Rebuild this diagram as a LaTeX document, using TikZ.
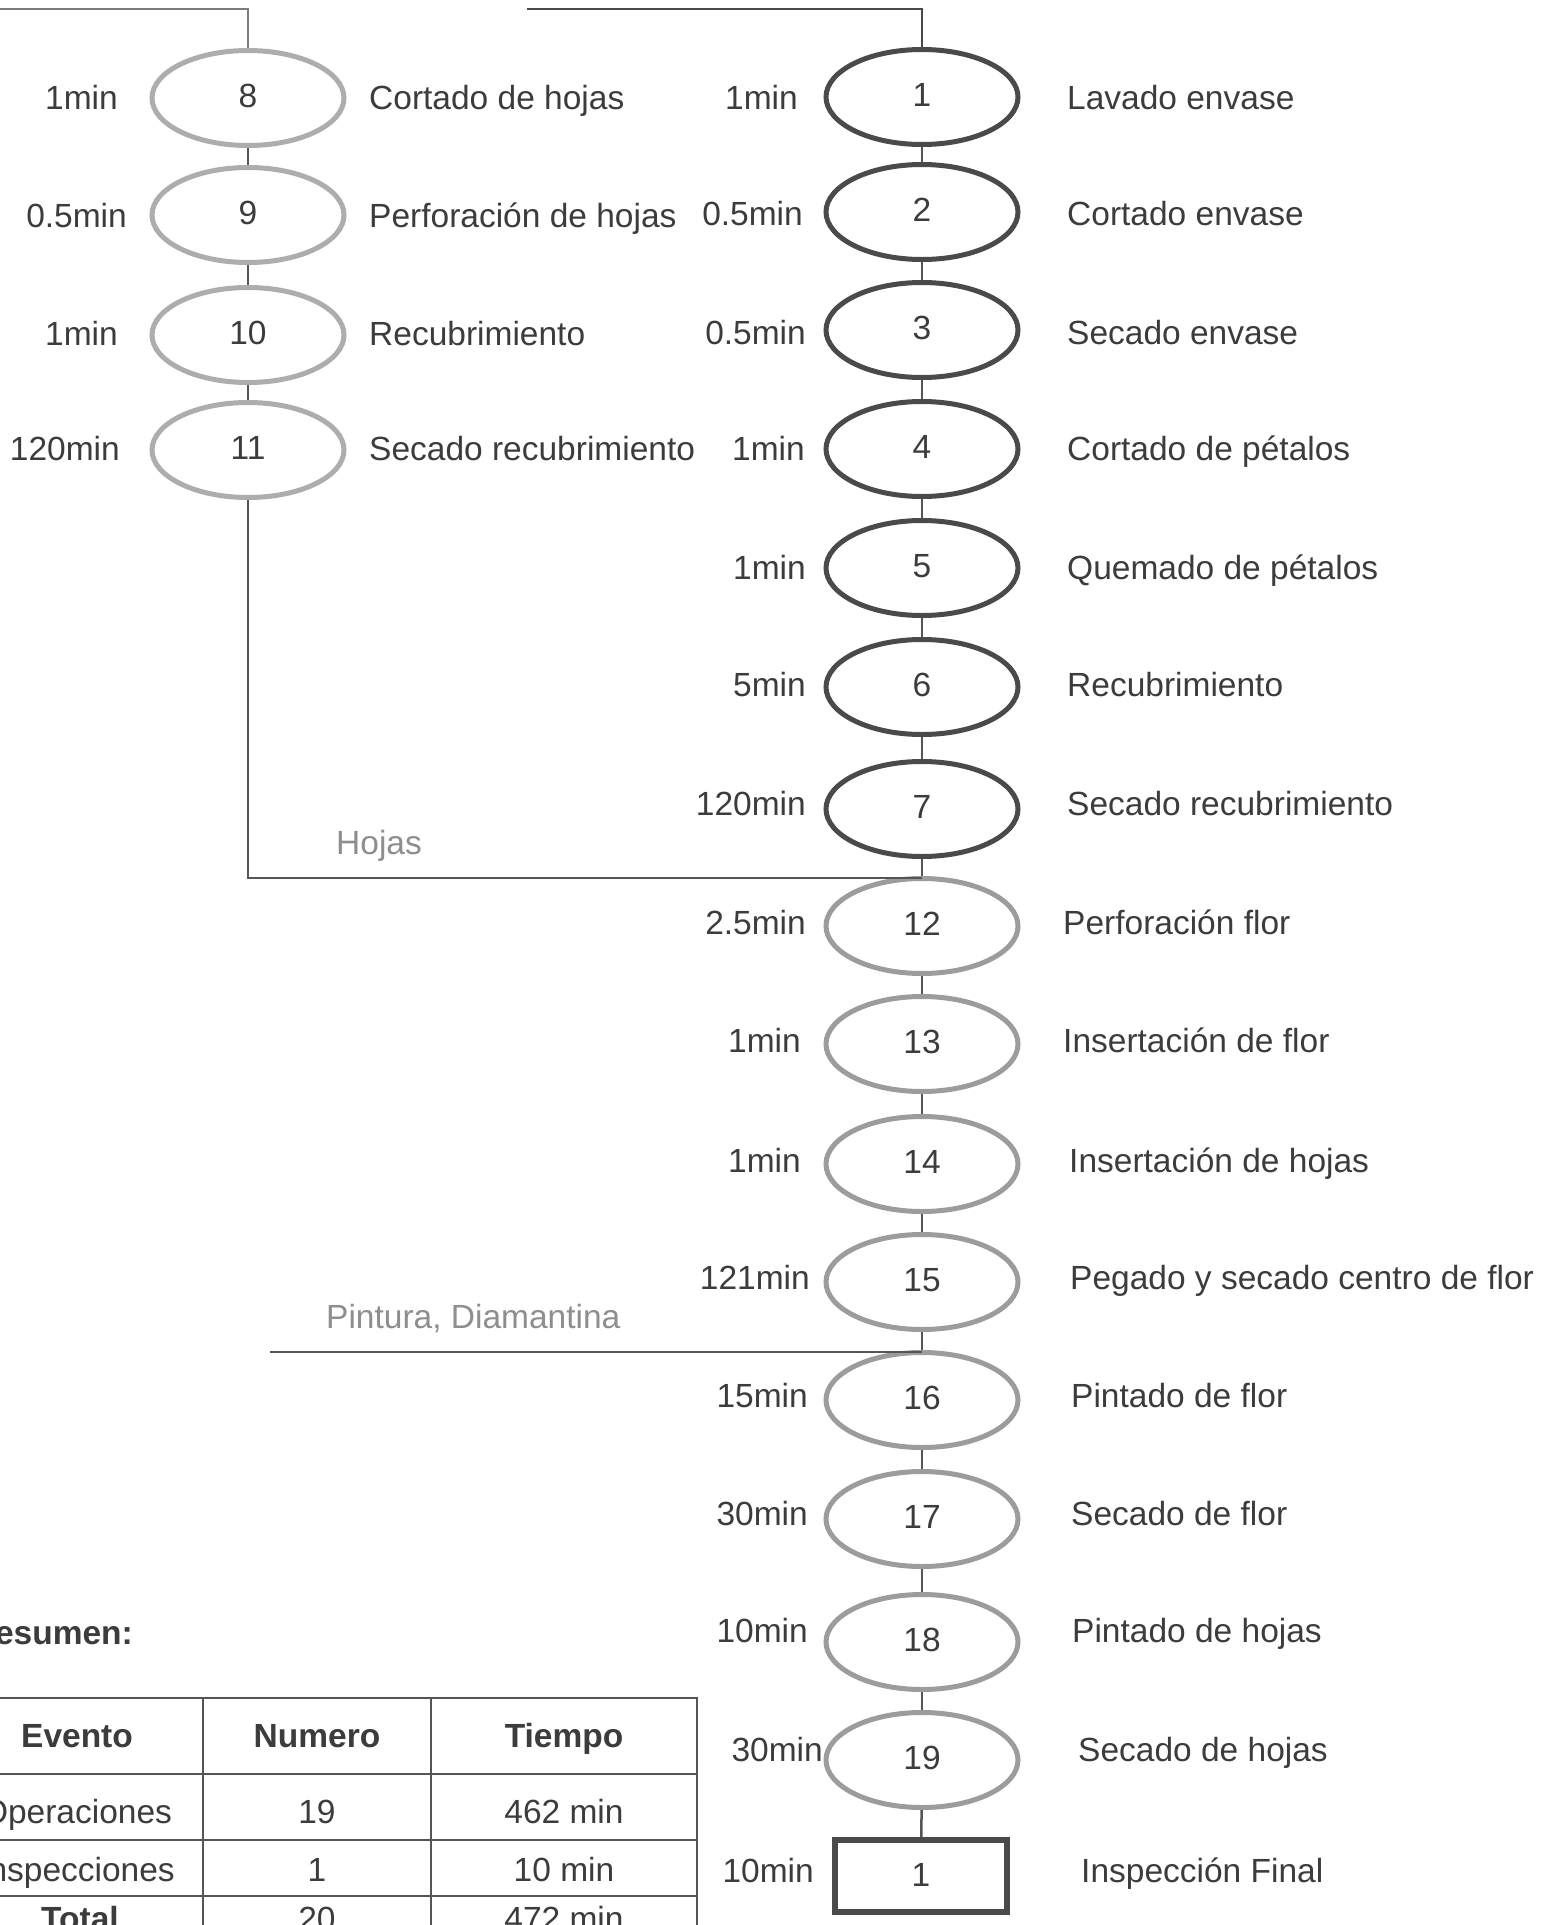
\documentclass[tikz,border=0pt]{standalone}
\usepackage{fontspec}
\setmainfont{Liberation Sans}
\usetikzlibrary{shapes.geometric}
\definecolor{txt}{HTML}{3C3C3C}
\definecolor{dk}{HTML}{4A4A4A}
\definecolor{lt}{HTML}{9C9C9C}
\definecolor{lf}{HTML}{ADADAD}
\definecolor{cn}{HTML}{555555}
\definecolor{gl}{HTML}{7C7C7C}
\definecolor{lbl}{HTML}{8E8E8E}
\newcommand\myfs{\fontsize{33.5}{40}\selectfont}
\tikzset{
  op/.style={ellipse, draw, line width=5pt, minimum width=192pt, minimum height=95pt,
    inner sep=0pt, text height=24pt, text depth=6pt, font=\myfs, text=txt},
  opdark/.style={op, draw=dk},
  oplight/.style={op, draw=lt},
  opleft/.style={op, draw=lf},
  insp/.style={rectangle, draw=dk, line width=6pt, minimum width=172pt, minimum height=72pt,
    inner sep=0pt, text height=24pt, text depth=4pt, font=\myfs, text=txt},
  tm/.style={anchor=east, inner sep=0pt, text height=24pt, text depth=0pt, font=\myfs, text=txt},
  ds/.style={anchor=west, inner sep=0pt, text height=24pt, text depth=0pt, font=\myfs, text=txt},
  lab/.style={anchor=west, inner sep=0pt, text height=24pt, text depth=0pt, font=\myfs, text=lbl},
  cell/.style={anchor=center, inner sep=0pt, text height=24pt, text depth=0pt, font=\myfs, text=txt},
  hcell/.style={cell, font=\myfs\bfseries},
  conn/.style={draw=cn, line width=2.5pt},
  tbl/.style={draw=cn, line width=2.5pt}
}
\begin{document}
\begin{tikzpicture}[x=1pt, y=-1pt]
\useasboundingbox (0,0) rectangle (1559,1925);
\clip (0,0) rectangle (1559,1925);
\fill[white] (0,0) rectangle (1559,1925);

% ---------- left column (leaves) ----------
\node[opleft] (l8)  at (248,98)  {8};
\node[opleft] (l9)  at (248,215) {9};
\node[opleft] (l10) at (248,335) {10};
\node[opleft] (l11) at (248,450) {11};

\node[tm] (tl8)  at (118,97)  {1min};
\node[tm] (tl9)  at (127,215) {0.5min};
\node[tm] (tl10) at (118,333) {1min};
\node[tm] (tl11) at (120,448) {120min};

\node[ds] (dl8)  at (369,97)  {Cortado de hojas};
\node[ds] (dl9)  at (369,215) {Perforación de hojas};
\node[ds] (dl10) at (369,333) {Recubrimiento};
\node[ds] (dl11) at (369,448) {Secado recubrimiento};

% ---------- right column ----------
\node[opdark] (r1)  at (922,97)   {1};
\node[opdark] (r2)  at (922,212)  {2};
\node[opdark] (r3)  at (922,330)  {3};
\node[opdark] (r4)  at (922,449)  {4};
\node[opdark] (r5)  at (922,568)  {5};
\node[opdark] (r6)  at (922,687)  {6};
\node[opdark] (r7)  at (922,809)  {7};
\node[oplight] (r12) at (922,926)  {12};
\node[oplight] (r13) at (922,1044) {13};
\node[oplight] (r14) at (922,1164) {14};
\node[oplight] (r15) at (922,1282) {15};
\node[oplight] (r16) at (922,1400) {16};
\node[oplight] (r17) at (922,1519) {17};
\node[oplight] (r18) at (922,1642) {18};
\node[oplight] (r19) at (922,1760) {19};
\node[insp] (b1) at (921,1876) {1};

\node[tm] (t1)  at (798,97)   {1min};
\node[tm] (t2)  at (803,213)  {0.5min};
\node[tm] (t3)  at (806,332)  {0.5min};
\node[tm] (t4)  at (805,448)  {1min};
\node[tm] (t5)  at (806,567)  {1min};
\node[tm] (t6)  at (806,684)  {5min};
\node[tm] (t7)  at (806,803)  {120min};
\node[tm] (t12) at (806,922)  {2.5min};
\node[tm] (t13) at (801,1040) {1min};
\node[tm] (t14) at (801,1160) {1min};
\node[tm] (t15) at (810,1277) {121min};
\node[tm] (t16) at (808,1395) {15min};
\node[tm] (t17) at (808,1513) {30min};
\node[tm] (t18) at (808,1630) {10min};
\node[tm] (t19) at (823,1749) {30min};
\node[tm] (tb1) at (814,1870) {10min};

\node[ds] (d1)  at (1067,97)   {Lavado envase};
\node[ds] (d2)  at (1067,213)  {Cortado envase};
\node[ds] (d3)  at (1067,332)  {Secado envase};
\node[ds] (d4)  at (1067,448)  {Cortado de pétalos};
\node[ds] (d5)  at (1067,567)  {Quemado de pétalos};
\node[ds] (d6)  at (1067,684)  {Recubrimiento};
\node[ds] (d7)  at (1067,803)  {Secado recubrimiento};
\node[ds] (d12) at (1063,922)  {Perforación flor};
\node[ds] (d13) at (1063,1040) {Insertación de flor};
\node[ds] (d14) at (1069,1160) {Insertación de hojas};
\node[ds] (d15) at (1070,1277) {Pegado y secado centro de flor};
\node[ds] (d16) at (1071,1395) {Pintado de flor};
\node[ds] (d17) at (1071,1513) {Secado de flor};
\node[ds] (d18) at (1072,1630) {Pintado de hojas};
\node[ds] (d19) at (1078,1749) {Secado de hojas};
\node[ds] (db1) at (1081,1870) {Inspección Final};

% ---------- connectors ----------
\coordinate (tl) at (0,9);
\coordinate (tr) at (527,9);
\coordinate (jh) at (922,878);
\coordinate (pl) at (270,1352);
\coordinate (jp) at (922,1352);

\draw[conn, draw=gl] (tl) -| (l8.north);
\draw[conn, draw=dk] (tr) -| (r1.north);
\draw[conn] (l8) -- (l9);
\draw[conn] (l9) -- (l10);
\draw[conn] (l10) -- (l11);
\draw[conn] (l11.south) |- (jh);
\draw[conn] (r1) -- (r2);
\draw[conn] (r2) -- (r3);
\draw[conn] (r3) -- (r4);
\draw[conn] (r4) -- (r5);
\draw[conn] (r5) -- (r6);
\draw[conn] (r6) -- (r7);
\draw[conn] (r7.south) -- (r12.north);
\draw[conn] (r12) -- (r13);
\draw[conn] (r13) -- (r14);
\draw[conn] (r14) -- (r15);
\draw[conn] (r15.south) -- (r16.north);
\draw[conn] (pl) -- (jp);
\draw[conn] (r16) -- (r17);
\draw[conn] (r17) -- (r18);
\draw[conn] (r18) -- (r19);
\draw[conn] (r19) -- (b1);

\node[lab] (hojas) at (336,842) {Hojas};
\node[lab] (pint) at (326,1316) {Pintura, Diamantina};

% ---------- summary table ----------
\node[anchor=east, inner sep=0pt, text height=24pt, text depth=0pt, font=\myfs\bfseries, text=txt] (res) at (133,1632) {Resumen:};
\draw[tbl] (-60,1698) rectangle (697,1960);
\draw[tbl] (-60,1774) -- (697,1774);
\draw[tbl] (-60,1840) -- (697,1840);
\draw[tbl] (-60,1896) -- (697,1896);
\draw[tbl] (203,1698) -- (203,1960);
\draw[tbl] (431,1698) -- (431,1960);

\node[hcell] (h1) at (77,1735) {Evento};
\node[hcell] (h2) at (317,1735) {Numero};
\node[hcell] (h3) at (564,1735) {Tiempo};
\node[cell] (c11) at (77,1811) {Operaciones};
\node[cell] (c12) at (317,1811) {19};
\node[cell] (c13) at (564,1811) {462 min};
\node[cell] (c21) at (77,1869) {Inspecciones};
\node[cell] (c22) at (317,1869) {1};
\node[cell] (c23) at (564,1869) {10 min};
\node[hcell] (c31) at (80,1918) {Total};
\node[cell] (c32) at (317,1918) {20};
\node[cell] (c33) at (564,1918) {472 min};
\end{tikzpicture}
\end{document}
